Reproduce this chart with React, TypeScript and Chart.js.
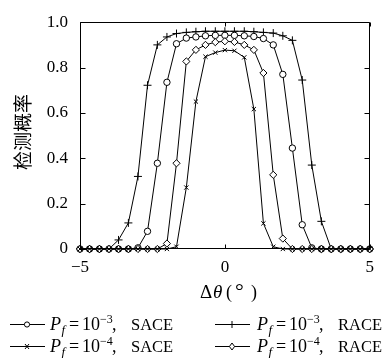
import React, { useEffect, useRef } from "react";
import { Chart, registerables } from "chart.js";

Chart.register(...registerables);

// ---- data ----
const deltaTheta = [
  -5, -4.67, -4.33, -4, -3.67, -3.33, -3, -2.67, -2.33, -2, -1.67, -1.33, -1, -0.67, -0.33,
  0, 0.33, 0.67, 1, 1.33, 1.67, 2, 2.33, 2.67, 3, 3.33, 3.67, 4, 4.33, 4.67, 5,
];
const saceP3 = [
  0, 0, 0, 0, 0, 0, 0.005, 0.078, 0.378, 0.735, 0.905, 0.93, 0.935, 0.94, 0.942,
  0.942, 0.942, 0.94, 0.937, 0.928, 0.9, 0.77, 0.445, 0.107, 0.005, 0, 0, 0, 0, 0, 0,
];
const raceP3 = [
  0, 0, 0, 0, 0.04, 0.115, 0.32, 0.722, 0.9, 0.935, 0.95, 0.955, 0.958, 0.96, 0.96,
  0.96, 0.96, 0.96, 0.958, 0.955, 0.952, 0.94, 0.92, 0.745, 0.37, 0.122, 0, 0, 0, 0, 0,
];
const saceP4 = [
  0, 0, 0, 0, 0, 0, 0, 0, 0, 0, 0.01, 0.271, 0.65, 0.848, 0.866,
  0.877, 0.874, 0.845, 0.617, 0.113, 0.01, 0, 0, 0, 0, 0, 0, 0, 0, 0, 0,
];
const raceP4 = [
  0, 0, 0, 0, 0, 0, 0, 0, 0, 0.024, 0.378, 0.827, 0.878, 0.9, 0.912,
  0.916, 0.913, 0.9, 0.878, 0.776, 0.327, 0.046, 0, 0, 0, 0, 0, 0, 0, 0, 0,
];
const xTicks = [-5, 0, 5];
const yTicks = [0, 0.2, 0.4, 0.6, 0.8, 1.0];
const legendExponents = ["\u22123", "\u22123", "\u22124", "\u22124"];
const legendMethods = ["SACE", "RACE", "SACE", "RACE"];
const yTitle = "检测概率";

const SERIF = "'Liberation Serif', 'Times New Roman', serif";

function drawMarker(ctx: CanvasRenderingContext2D, kind: string, x: number, y: number) {
  ctx.save();
  ctx.strokeStyle = "#000";
  ctx.fillStyle = "#fff";
  ctx.lineWidth = 1;
  ctx.beginPath();
  if (kind === "circle") {
    ctx.arc(x, y, 2.6, 0, Math.PI * 2);
    ctx.fill();
    ctx.stroke();
  } else if (kind === "plus") {
    ctx.moveTo(x, y - 3.5);
    ctx.lineTo(x, y + 3.5);
    ctx.stroke();
  } else if (kind === "x") {
    ctx.moveTo(x - 2, y - 2.5);
    ctx.lineTo(x + 2, y + 2.5);
    ctx.moveTo(x + 2, y - 2.5);
    ctx.lineTo(x - 2, y + 2.5);
    ctx.stroke();
  } else {
    ctx.moveTo(x, y - 3.5);
    ctx.lineTo(x + 2.6, y);
    ctx.lineTo(x, y + 3.5);
    ctx.lineTo(x - 2.6, y);
    ctx.closePath();
    ctx.fill();
    ctx.stroke();
  }
  ctx.restore();
}

function drawLegendLabel(
  ctx: CanvasRenderingContext2D,
  x: number,
  baseline: number,
  exp: string,
  method: string
) {
  ctx.fillStyle = "#000";
  ctx.textAlign = "left";
  ctx.textBaseline = "alphabetic";
  ctx.font = `italic 18px ${SERIF}`;
  ctx.fillText("P", x, baseline);
  ctx.font = `italic 13px ${SERIF}`;
  ctx.fillText("f", x + 11.5, baseline + 4);
  ctx.font = `18px ${SERIF}`;
  ctx.fillText("=", x + 19, baseline);
  ctx.fillText("10", x + 32, baseline);
  ctx.font = `12px ${SERIF}`;
  ctx.fillText(exp, x + 50, baseline - 7);
  ctx.font = `18px ${SERIF}`;
  ctx.fillText(",", x + 62, baseline);
  ctx.font = `16.5px ${SERIF}`;
  ctx.fillText(method, x + 81, baseline);
}

const decorPlugin = {
  id: "decor",
  afterDatasetsDraw(chart: any) {
    const ctx: CanvasRenderingContext2D = chart.ctx;
    const { left, right, top, bottom } = chart.chartArea;
    const xs = chart.scales.x;
    const ys = chart.scales.y;
    const L = Math.round(left) + 0.5;
    const R = Math.round(right) - 0.5;
    const T = Math.round(top) + 0.5;
    const B = Math.round(bottom) - 0.5;
    ctx.save();
    ctx.strokeStyle = "#000";
    ctx.lineWidth = 1;
    ctx.beginPath();
    ctx.rect(L, T, R - L, B - T);
    ctx.stroke();
    // inward ticks
    ctx.beginPath();
    yTicks.forEach((v) => {
      const py = Math.round(ys.getPixelForValue(v)) + 0.5;
      ctx.moveTo(L, py);
      ctx.lineTo(L + 5, py);
      ctx.moveTo(R, py);
      ctx.lineTo(R - 5, py);
    });
    xTicks.forEach((v) => {
      const px = Math.round(xs.getPixelForValue(v)) + 0.5;
      ctx.moveTo(px, B);
      ctx.lineTo(px, B - 4);
      ctx.moveTo(px, T);
      ctx.lineTo(px, T + 4);
    });
    ctx.stroke();
    ctx.restore();
  },
  afterDraw(chart: any) {
    const ctx: CanvasRenderingContext2D = chart.ctx;
    ctx.save();
    ctx.fillStyle = "#000";
    // y title
    ctx.save();
    ctx.translate(23, 132);
    ctx.rotate(-Math.PI / 2);
    ctx.font = `19px 'Noto Sans CJK SC', sans-serif`;
    ctx.textAlign = "center";
    ctx.textBaseline = "middle";
    ctx.fillText(yTitle, 0, 0);
    ctx.restore();
    // x title
    ctx.textAlign = "left";
    ctx.textBaseline = "alphabetic";
    ctx.font = `19px ${SERIF}`;
    ctx.fillText("\u0394", 200, 298);
    ctx.font = `italic 19px ${SERIF}`;
    ctx.fillText("\u03B8", 213, 298);
    ctx.font = `18px ${SERIF}`;
    ctx.fillText("(", 226, 298);
    ctx.font = `22px ${SERIF}`;
    ctx.fillText("\u00B0", 235, 298);
    ctx.font = `18px ${SERIF}`;
    ctx.fillText(")", 251, 298);
    // legend
    const kinds = ["circle", "plus", "x", "diamond"];
    const cols = [
      { lx0: 10, lx1: 45, mx: 27, tx: 50 },
      { lx0: 215, lx1: 250, mx: 232, tx: 257 },
    ];
    const rows = [{ ly: 324.5, base: 330 }, { ly: 346.5, base: 352 }];
    for (let i = 0; i < 4; i++) {
      const c = cols[i % 2];
      const r = rows[Math.floor(i / 2)];
      ctx.strokeStyle = "#000";
      ctx.lineWidth = 1;
      ctx.beginPath();
      ctx.moveTo(c.lx0, r.ly);
      ctx.lineTo(c.lx1, r.ly);
      ctx.stroke();
      drawMarker(ctx, kinds[i], c.mx, r.ly);
      drawLegendLabel(ctx, c.tx, r.base, legendExponents[i], legendMethods[i]);
    }
    ctx.restore();
  },
};

export default function App() {
  const ref = useRef<HTMLCanvasElement | null>(null);
  useEffect(() => {
    if (!ref.current) return;
    const mk = (ys: number[]) => deltaTheta.map((x, i) => ({ x, y: ys[i] }));
    const base = {
      borderColor: "#000",
      borderWidth: 1,
      pointBorderColor: "#000",
      pointBackgroundColor: "#fff",
      pointBorderWidth: 1,
      fill: false,
      tension: 0,
      clip: false as any,
    };
    const chart = new Chart(ref.current, {
      type: "line",
      data: {
        datasets: [
          { ...base, label: "Pf=10^-4, SACE", data: mk(saceP4), pointStyle: "crossRot", pointRadius: 3 },
          { ...base, label: "Pf=10^-4, RACE", data: mk(raceP4), pointStyle: "rectRot", pointRadius: 3.6 },
          { ...base, label: "Pf=10^-3, SACE", data: mk(saceP3), pointStyle: "circle", pointRadius: 3.2 },
          { ...base, label: "Pf=10^-3, RACE", data: mk(raceP3), pointStyle: "cross", pointRadius: 4 },
        ],
      },
      options: {
        animation: false,
        responsive: false,
        layout: { padding: { left: 0, right: 10, top: 15, bottom: 0 } },
        plugins: { legend: { display: false }, tooltip: { enabled: false } },
        scales: {
          x: {
            type: "linear",
            min: -5,
            max: 5,
            grid: { display: false, drawTicks: false },
            border: { display: false },
            afterBuildTicks: (s: any) => {
              s.ticks = xTicks.map((v) => ({ value: v }));
            },
            afterFit: (s: any) => {
              s.height = 109;
            },
            ticks: {
              padding: 8,
              color: "#000",
              maxRotation: 0,
              font: { family: SERIF, size: 17 },
              callback: (v: any) => (v < 0 ? "\u2212" + Math.abs(v) : String(v)),
            },
          },
          y: {
            type: "linear",
            min: 0,
            max: 1,
            grid: { display: false, drawTicks: false },
            border: { display: false },
            afterBuildTicks: (s: any) => {
              s.ticks = yTicks.map((v) => ({ value: v }));
            },
            afterFit: (s: any) => {
              s.width = 80;
            },
            ticks: {
              padding: 12,
              color: "#000",
              font: { family: SERIF, size: 17 },
              callback: (v: any) => (Number(v) === 0 ? "0" : Number(v).toFixed(1)),
            },
          },
        },
      },
      plugins: [decorPlugin],
    });
    return () => chart.destroy();
  }, []);
  return (
    <div style={{ position: "fixed", left: 0, top: 0, width: 382, height: 358, background: "#fff" }}>
      <canvas ref={ref} width={382} height={358} style={{ display: "block" }} />
    </div>
  );
}
